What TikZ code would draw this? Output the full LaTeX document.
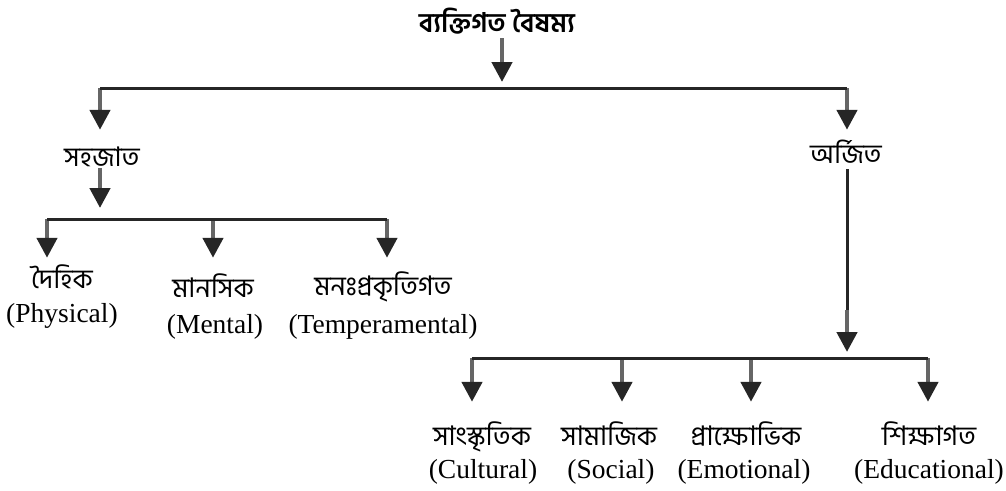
\documentclass[tikz,border=0pt]{standalone}
\usepackage{fontspec}
\setmainfont{Liberation Serif}
\newfontfamily\bnfont[Script=Bengali]{Hind Siliguri}
\usetikzlibrary{arrows.meta,positioning}

\begin{document}
\begin{tikzpicture}[x=1pt, y=-1pt,
    bn/.style={font=\bnfont\fontsize{27}{30}\selectfont, inner sep=0pt,
               anchor=base, text height=24pt, text depth=2pt},
    en/.style={font=\fontsize{27.5}{32}\selectfont, inner sep=0pt, anchor=base},
    bar/.style={line width=3pt, black!85},
    down/.style={-{Triangle[width=20pt, length=20pt, color=black!85]},
                 line width=4.5pt, black!60}
  ]
    \useasboundingbox (0,0) rectangle (1006,490);

    % Title
    \node[bn, font=\bnfont\bfseries\fontsize{27}{30}\selectfont, text depth=6pt]
      (title) at (497,32) {ব্যক্তিগত বৈষম্য};

    % Top bar
    \coordinate (topbarL) at (100,88);
    \coordinate (topbarM) at (502,88);
    \coordinate (topbarR) at (847,88);
    \draw[down, shorten >=6pt] (topbarM |- title.south) -- (topbarM);

    % Level 1
    \node[bn] (sahajat) at (102,166) {সহজাত};
    \node[bn] (arjit) at (846,163) {অর্জিত};
    \draw[down, shorten >=12pt] (topbarL) -- (topbarL |- sahajat.north);
    \draw[down, shorten >=9pt] (topbarR) -- (topbarR |- arjit.north);
    \draw[bar] (topbarL) -- (topbarR);

    % Sahajat branch
    \coordinate (leftbarS) at (100,219);
    \coordinate (leftbarL) at (47,219);
    \coordinate (leftbarM) at (213,219);
    \coordinate (leftbarR) at (387,219);
    \draw[down, shorten >=11pt] (leftbarS |- sahajat.south) -- (leftbarS);

    \node[bn] (daihik) at (62,288) {দৈহিক};
    \node[en] (daihikEn) at (62,322) {(Physical)};
    \node[bn] (manasik) at (213,297) {মানসিক};
    \node[en] (manasikEn) at (215,333) {(Mental)};
    \node[bn] (monah) at (383,295) {মনঃপ্রকৃতিগত};
    \node[en] (monahEn) at (383,333) {(Temperamental)};

    \draw[down, shorten >=6pt] (leftbarL) -- (leftbarL |- daihik.north);
    \draw[down, shorten >=15pt] (leftbarM) -- (leftbarM |- manasik.north);
    \draw[down, shorten >=13pt] (leftbarR) -- (leftbarR |- monah.north);
    \draw[bar] (leftbarL) -- (leftbarR);

    % Arjit branch
    \coordinate (arjitMid) at (847,310);
    \coordinate (rightbarIn) at (847,358);
    \coordinate (rightbarA) at (472,358);
    \coordinate (rightbarB) at (622,358);
    \coordinate (rightbarC) at (751,358);
    \coordinate (rightbarD) at (928,358);
    \draw[bar, shorten <=4pt] (arjitMid |- arjit.south) -- (arjitMid);
    \draw[down, shorten >=6pt] (arjitMid) -- (rightbarIn);

    \node[bn] (sanskritik) at (482,445) {সাংস্কৃতিক};
    \node[en] (sanskritikEn) at (483,478) {(Cultural)};
    \node[bn] (samajik) at (609,445) {সামাজিক};
    \node[en] (samajikEn) at (611,478) {(Social)};
    \node[bn] (prakkhobhik) at (746,445) {প্রাক্ষোভিক};
    \node[en] (prakkhobhikEn) at (744,478) {(Emotional)};
    \node[bn] (shikkha) at (929,445) {শিক্ষাগত};
    \node[en] (shikkhaEn) at (929,478) {(Educational)};

    \draw[down, shorten >=19pt] (rightbarA) -- (rightbarA |- sanskritik.north);
    \draw[down, shorten >=19pt] (rightbarB) -- (rightbarB |- samajik.north);
    \draw[down, shorten >=19pt] (rightbarC) -- (rightbarC |- prakkhobhik.north);
    \draw[down, shorten >=19pt] (rightbarD) -- (rightbarD |- shikkha.north);
    \draw[bar] (rightbarA) -- (rightbarD);
\end{tikzpicture}
\end{document}
